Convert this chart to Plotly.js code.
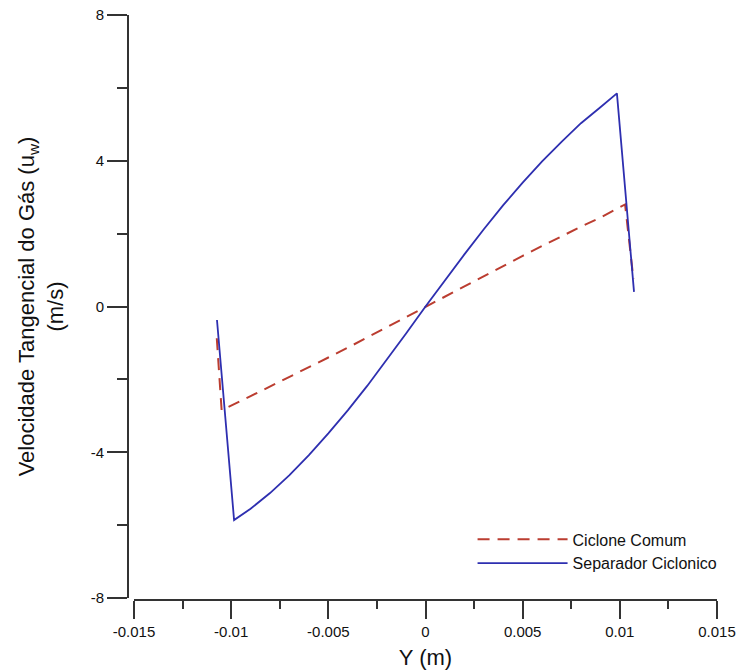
<!DOCTYPE html>
<html>
<head>
<meta charset="utf-8">
<script src="https://cdn.plot.ly/plotly-3.0.1.min.js"></script>
<style>html,body{margin:0;padding:0;background:#fff;}#chart{width:741px;height:671px;}</style>
</head>
<body>
<div id="chart"></div>
<script>
// Ciclone Comum (dashed red)
var comumY = [-0.01074, -0.01049, -0.009, -0.008, -0.007, -0.006, -0.005, -0.004, -0.003, -0.002, -0.001, 0,
              0.001, 0.002, 0.003, 0.004, 0.005, 0.006, 0.007, 0.008, 0.009, 0.01027, 0.0107];
var comumU = [-0.87, -2.85, -2.46, -2.2, -1.94, -1.67, -1.4, -1.13, -0.85, -0.57, -0.29, 0,
              0.29, 0.57, 0.85, 1.12, 1.39, 1.66, 1.93, 2.19, 2.44, 2.8, 0.75];
// Separador Ciclonico (solid blue)
var sepY = [-0.01073, -0.00985, -0.009, -0.008, -0.007, -0.006, -0.005, -0.004, -0.003, -0.002, -0.001, 0,
            0.001, 0.002, 0.003, 0.004, 0.005, 0.006, 0.007, 0.008, 0.009, 0.00985, 0.01073];
var sepU = [-0.37, -5.86, -5.55, -5.12, -4.63, -4.08, -3.48, -2.85, -2.18, -1.47, -0.74, 0,
            0.72, 1.43, 2.12, 2.78, 3.4, 3.98, 4.52, 5.03, 5.47, 5.85, 0.4];
var seriesNames = ["Ciclone Comum", "Separador Ciclonico"];
var xTicks = [-0.015, -0.01, -0.005, 0, 0.005, 0.01, 0.015];
var xTickText = ["-0.015", "-0.01", "-0.005", "0", "0.005", "0.01", "0.015"];
var yTicks = [-8, -4, 0, 4, 8];
var yTickText = ["-8", "-4", "0", "4", "8"];

var FONT = "Liberation Sans, Arial, sans-serif";
var AX = "#333333";

var traces = [
  {x: comumY, y: comumU, name: seriesNames[0], type: "scatter", mode: "lines",
   line: {color: "#bb3d30", width: 2, dash: "12px,8px"}},
  {x: sepY, y: sepU, name: seriesNames[1], type: "scatter", mode: "lines",
   line: {color: "#2e2fb0", width: 1.8}}
];

var layout = {
  width: 741, height: 671,
  margin: {l: 128, r: 24, t: 15, b: 71, pad: 0},
  paper_bgcolor: "#ffffff", plot_bgcolor: "#ffffff",
  font: {family: FONT, color: "#111111", size: 15},
  showlegend: true,
  legend: {x: 0.585, y: 0.083, xanchor: "left", yanchor: "middle", xref: "paper", yref: "paper",
           bgcolor: "rgba(0,0,0,0)", font: {family: FONT, size: 16, color: "#111"},
           itemwidth: 90, tracegroupgap: 0},
  xaxis: {
    domain: [6/589, 1], range: [-0.015, 0.015], anchor: "free", position: 0,
    showgrid: false, zeroline: false, showline: true, linecolor: AX, linewidth: 2,
    ticks: "outside", ticklen: 18, tickwidth: 2, tickcolor: AX,
    tickmode: "array", tickvals: xTicks, ticktext: xTickText,
    tickfont: {family: FONT, size: 15, color: "#111"},
    minor: {dtick: 0.0025, ticks: "outside", ticklen: 8, tickwidth: 2, tickcolor: AX, tick0: 0},
    title: {text: "Y (m)", font: {family: FONT, size: 22, color: "#111"}, standoff: 10}
  },
  yaxis: {
    domain: [2/585, 1], range: [-8, 8], anchor: "free", position: 0,
    showgrid: false, zeroline: false, showline: true, linecolor: AX, linewidth: 2,
    ticks: "outside", ticklen: 20, tickwidth: 2, tickcolor: AX,
    tickmode: "array", tickvals: yTicks, ticktext: yTickText,
    tickfont: {family: FONT, size: 15, color: "#111"},
    minor: {dtick: 2, tick0: 0, ticks: "outside", ticklen: 10, tickwidth: 2, tickcolor: AX},
    title: {text: "Velocidade Tangencial do Gás (u<sub>w</sub>)<br>(m/s)", font: {family: FONT, size: 22, color: "#111"}, standoff: 20}
  }
};

Plotly.newPlot("chart", traces, layout, {displayModeBar: false, staticPlot: true});
</script>
</body>
</html>
